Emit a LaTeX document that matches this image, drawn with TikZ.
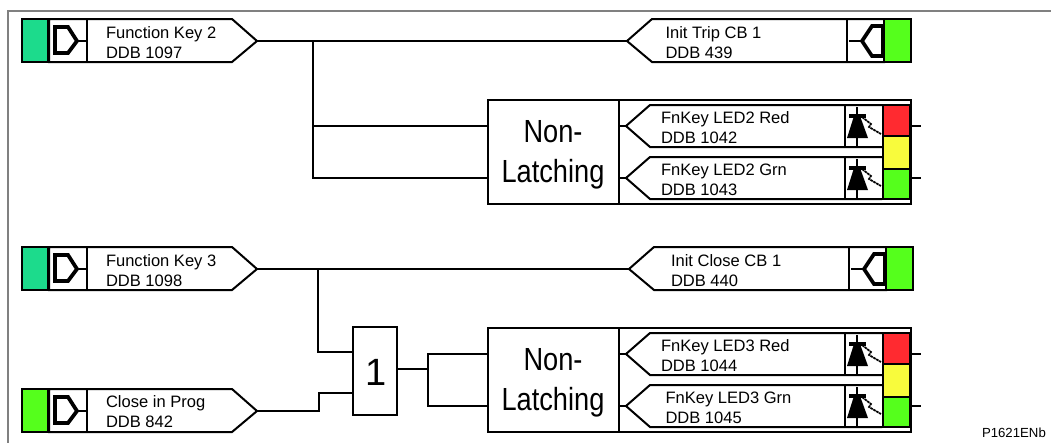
\documentclass[tikz,border=0pt]{standalone}
\usepackage{fontspec}
\setmainfont{Liberation Sans}
\newfontfamily\narrowfont[FakeStretch=0.85]{Liberation Sans}
\definecolor{teal1}{HTML}{1CDB8C}
\definecolor{lime1}{HTML}{55FF1C}
\definecolor{red1}{HTML}{FF2A30}
\definecolor{yel1}{HTML}{F8FB3C}
\definecolor{frame1}{HTML}{808080}
\tikzset{
  wire/.style={line width=1.5pt,black,line join=miter},
  outline/.style={line width=1.5pt,black,line join=miter},
  thinout/.style={line width=0.9pt,black},
  lamp/.style={draw=black,line width=1.5pt,rectangle,inner sep=0pt,outer sep=0pt,anchor=north west},
  block/.style={draw=black,line width=1.5pt,rectangle,inner sep=0pt,outer sep=0pt,anchor=north west,fill=white},
  lbl/.style={anchor=base west,inner sep=0pt,outer sep=0pt,font=\fontsize{12.4pt}{14pt}\selectfont},
  sym/.style={line width=2.8pt,black,line join=miter},
  tiny/.style={anchor=base west,inner sep=0pt,outer sep=0pt,font=\fontsize{9.9pt}{12pt}\selectfont},
  big/.style={inner sep=0pt,outer sep=0pt,anchor=base,font=\narrowfont\fontsize{24pt}{30pt}\selectfont},
  one/.style={inner sep=0pt,outer sep=0pt,font=\fontsize{28.5pt}{30pt}\selectfont},
}
% input row: id, top, colour, line 1, line 2, text baseline offset
\newcommand{\inrow}[6]{%
  \node[lamp,fill=#3,minimum width=26*0.75pt,minimum height=43*0.75pt] (#1lamp) at (22,#2) {};
  \draw[outline] (49,#2) -- (232,#2) -- (257,#2+22) -- (232,#2+43) -- (49,#2+43) -- cycle;
  \draw[thinout] (87,#2) -- (87,#2+43);
  \draw[sym] (55,#2+8) -- (68,#2+8) -- (77,#2+22) -- (68,#2+34) -- (55,#2+34) -- cycle;
  \draw[line width=1.8pt] (77,#2+22) -- (87,#2+22);
  \coordinate (#1tip) at (257,#2+22);
  \node[lbl] (#1a) at (106,#2+#6) {#4};
  \node[lbl] (#1b) at (106,#2+#6+20) {#5};
}
% output row: id, top, x shift, text x, line 1, line 2
\newcommand{\outrow}[6]{%
  \draw[outline] (652+#3,#2) -- (884+#3,#2) -- (884+#3,#2+43) -- (652+#3,#2+43) -- (627+#3,#2+22) -- cycle;
  \draw[outline] (847+#3,#2) -- (847+#3,#2+43);
  \node[lamp,fill=lime1,minimum width=27*0.75pt,minimum height=43*0.75pt] (#1lamp) at (884+#3,#2) {};
  \draw[sym] (862+#3,#2+22) -- (872+#3,#2+7) -- (883+#3,#2+7) -- (883+#3,#2+37) -- (872+#3,#2+37) -- cycle;
  \draw[line width=1.8pt] (849+#3,#2+22) -- (862+#3,#2+22);
  \coordinate (#1tip) at (627+#3,#2+22);
  \node[lbl] (#1a) at (#4,#2+19) {#5};
  \node[lbl] (#1b) at (#4,#2+39) {#6};
}
% LED row: id, top, text x, line 1, line 2
\newcommand{\ledrow}[5]{%
  \draw[outline] (882,#2) -- (650,#2) -- (626,#2+21) -- (650,#2+42) -- (882,#2+42);
  \draw[outline] (845,#2) -- (845,#2+42);
  \fill[black] (854,#2+11) -- (860,#2+11) -- (868,#2+33) -- (847,#2+33) -- cycle;
  \draw[line width=2.2pt] (857,#2+2) -- (857,#2+41);
  \draw[line width=2.6pt] (849,#2+11) -- (866,#2+11);
  \draw[line width=1.3pt,dash pattern=on 2pt off 0.5pt] (862,#2+12) -- (871,#2+19) -- (869,#2+22) -- (881,#2+29);
  \coordinate (#1tip) at (626,#2+21);
  \node[lbl] (#1a) at (#3,#2+18) {#4};
  \node[lbl] (#1b) at (#3,#2+38) {#5};
}
% non-latching group: id, top
\newcommand{\nlgroup}[2]{%
  \draw[outline] (619,#2) -- (911,#2) -- (911,#2+104) -- (619,#2+104);
  \node[block,minimum width=131*0.75pt,minimum height=104*0.75pt] (#1) at (488,#2) {};
  \node[big] (#1t) at (553,#2+42) {Non-};
  \node[big] (#1u) at (553,#2+82) {Latching};
  \coordinate (#1dl) at (619,#2+26);
  \coordinate (#1dm) at (619,#2+78);
  \coordinate (#1pa) at (488,#2+26);
  \coordinate (#1pb) at (488,#2+78);
  \node[lamp,fill=red1,minimum width=27*0.75pt,minimum height=31*0.75pt] (#1red) at (883,#2+5) {};
  \node[lamp,fill=yel1,minimum width=27*0.75pt,minimum height=33*0.75pt] (#1yel) at (883,#2+36) {};
  \node[lamp,fill=lime1,minimum width=27*0.75pt,minimum height=30*0.75pt] (#1grn) at (883,#2+69) {};
  \coordinate (#1sa) at (921,#2+26);
  \coordinate (#1sb) at (921,#2+78);
  \draw[wire] (#1sa -| #1red.east) -- (#1sa);
  \draw[wire] (#1sb -| #1grn.east) -- (#1sb);
}
\begin{document}
\begin{tikzpicture}[x=0.75pt,y=-0.75pt]
\useasboundingbox (0,0) rectangle (1051,443);
\fill[white] (0,0) rectangle (1051,443);
\draw[frame1,line width=1.6pt] (1051,11) -- (8,11) -- (8,443);

% upper group
\inrow{fka}{19}{teal1}{Function Key 2}{DDB 1097}{19}
\outrow{trip}{19}{0}{665.5}{Init Trip CB 1}{DDB 439}
\nlgroup{nla}{100}
\ledrow{lr}{105}{661}{FnKey LED2 Red}{DDB 1042}
\ledrow{lg}{157}{661}{FnKey LED2 Grn}{DDB 1043}
\draw[wire] (nladl) -- (lrtip);
\draw[wire] (nladm) -- (lgtip);
\draw[wire] (fkatip) -- (triptip);
\coordinate (ja) at (313,41);
\draw[wire] (ja) -- (ja |- nlapb) -- (nlapb);
\draw[wire] (ja |- nlapa) -- (nlapa);

% lower group
\inrow{fkb}{247}{teal1}{Function Key 3}{DDB 1098}{19}
\outrow{close}{247}{2}{671}{Init Close CB 1}{DDB 440}
\nlgroup{nlb}{328}
\ledrow{mr}{333}{661}{FnKey LED3 Red}{DDB 1044}
\ledrow{mg}{385}{665.5}{FnKey LED3 Grn}{DDB 1045}
\draw[wire] (nlbdl) -- (mrtip);
\draw[wire] (nlbdm) -- (mgtip);
\inrow{prog}{389}{lime1}{Close in Prog}{DDB 842}{18}
\node[block,minimum width=44*0.75pt,minimum height=88*0.75pt] (orgate) at (353,327) {};
\node[one] (orone) at (376,372) {1};
\draw[wire] (fkbtip) -- (closetip);
\coordinate (jb) at (318,268.5);
\coordinate (pa) at (353,352);
\coordinate (pb) at (353,393);
\draw[wire] (jb) -- (jb |- pa) -- (pa);
\coordinate (jc) at (319,411);
\draw[wire] (progtip) -- (jc) -- (jc |- pb) -- (pb);
\coordinate (jd) at (428,369);
\draw[wire] (jd -| orgate.east) -- (jd);
\draw[wire] (nlbpa) -- (nlbpa -| jd) -- (nlbpb -| jd) -- (nlbpb);

\node[tiny] (code) at (982,437) {P1621ENb};
\end{tikzpicture}
\end{document}
